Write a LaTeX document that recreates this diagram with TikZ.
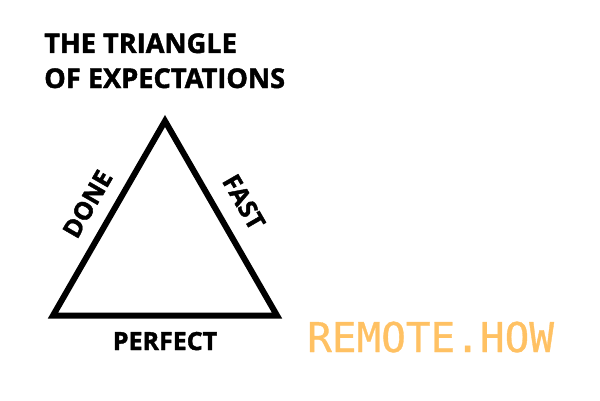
\documentclass[tikz,border=0pt]{standalone}
\usepackage{fontspec}
\setmainfont{Open Sans}[BoldFeatures={FakeBold=1.6}]
\newfontfamily\brandfont{DejaVu Sans Mono}[FakeBold=0.8]
\usepackage{tikz}
\usetikzlibrary{calc}
\definecolor{brandorange}{RGB}{255,193,99}

\begin{document}
\begin{tikzpicture}[
    x = 1pt, y = 1pt,
    headline/.style  = {anchor=base west, inner sep=0pt,
                        font=\fontsize{27.2}{35}\selectfont\bfseries},
    sidelabel/.style = {inner sep=0pt, font=\fontsize{25}{30}\selectfont\bfseries},
    edge/.style      = {line width=6pt, line join=miter},
    brand/.style     = {anchor=base west, inner sep=0pt, text=brandorange,
                        font=\fontsize{41}{48}\selectfont\brandfont},
]
\useasboundingbox (0,0) rectangle (600,400);

% corners of the triangle
\coordinate (left)  at (53,84.5);
\coordinate (right) at (277,84.5);
\coordinate (top)   at (165,279);

\draw[edge] (left) -- (top) -- (right) -- cycle;

\node[headline] (title1) at (44,347) {THE TRIANGLE};
\node[headline] (title2) at (44,312) {OF EXPECTATIONS};

\node[sidelabel, rotate=60]  (done)    at (87.5,196) {DONE};
\node[sidelabel, rotate=-60] (fast)    at (244,198)  {FAST};
\node[sidelabel, anchor=base] (perfect) at (165,50)  {PERFECT};

\node[brand] (logo) at (307,48) {REMOTE.HOW};
\end{tikzpicture}
\end{document}
